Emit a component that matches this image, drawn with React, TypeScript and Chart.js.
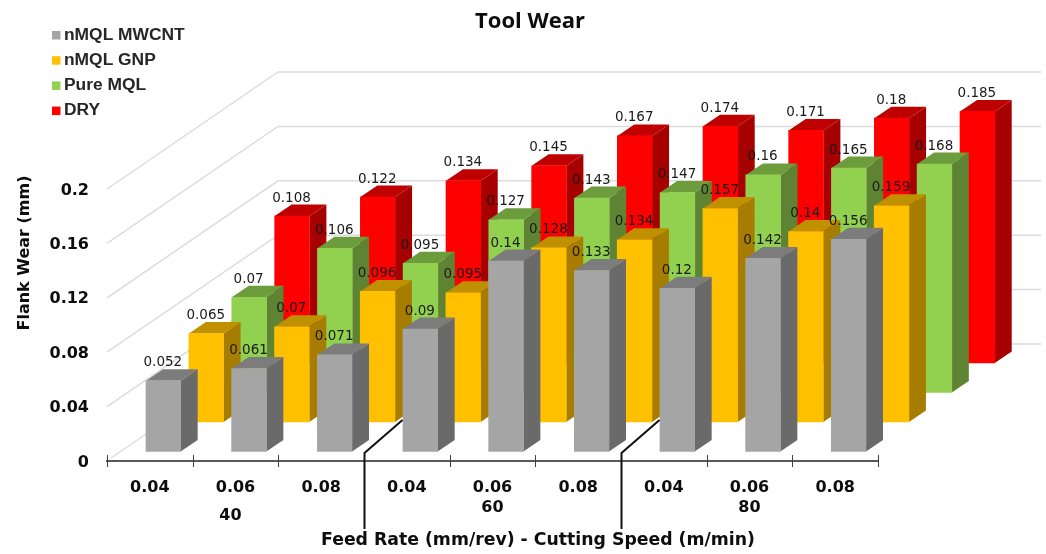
import React, { useEffect, useRef } from "react";
import { Chart, registerables } from "chart.js";

Chart.register(...registerables);

// Chart data
const feedRates = ["0.04", "0.06", "0.08", "0.04", "0.06", "0.08", "0.04", "0.06", "0.08"];
const cuttingSpeeds = ["40", "60", "80"];
const nmqlMwcnt = [0.052, 0.061, 0.071, 0.09, 0.14, 0.133, 0.12, 0.142, 0.156];
const nmqlGnp = [0.065, 0.07, 0.096, 0.095, 0.128, 0.134, 0.157, 0.14, 0.159];
const pureMql = [0.07, 0.106, 0.095, 0.127, 0.143, 0.147, 0.16, 0.165, 0.168];
const dry = [0.108, 0.122, 0.134, 0.145, 0.167, 0.174, 0.171, 0.18, 0.185];
const seriesNames = ["nMQL MWCNT", "nMQL GNP", "Pure MQL", "DRY"];

const frontColors = ["#a5a5a5", "#ffc000", "#92d050", "#ff0000"];
const sideColors = ["#6a6a6a", "#a67d00", "#5e8433", "#a60000"];
const topColors = ["#7c7c7c", "#bf9000", "#6d9c3c", "#bf0000"];

// Oblique projection used to fake the depth of the 3D columns
const ROW_DX = 42.9;
const ROW_DY = -29.5;
const FIRST_ROW_DX = 13.5;
const FIRST_ROW_DY = -9.5;
const COLUMN_DX = 17;
const COLUMN_DY = -11.5;
const WALL_DX = 171;
const WALL_DY = -117;
const WALL_END = 1041;

const rowShift = (i: number) => ({
  dx: FIRST_ROW_DX + ROW_DX * i,
  dy: FIRST_ROW_DY + ROW_DY * i,
});

const polygon = (ctx: CanvasRenderingContext2D, pts: number[][], fill: string) => {
  ctx.fillStyle = fill;
  ctx.beginPath();
  pts.forEach(([x, y], i) => (i ? ctx.lineTo(x, y) : ctx.moveTo(x, y)));
  ctx.closePath();
  ctx.fill();
};

const label = (
  ctx: CanvasRenderingContext2D,
  text: string,
  x: number,
  y: number,
  font: string,
  color: string,
  align: CanvasTextAlign = "center"
) => {
  ctx.font = font;
  ctx.fillStyle = color;
  ctx.textAlign = align;
  ctx.textBaseline = "middle";
  ctx.fillText(text, x, y);
};

// Floor and wall lines behind the columns
const depthGrid = {
  id: "depthGrid",
  beforeDatasetsDraw(chart: any) {
    const { ctx, scales } = chart;
    const left = scales.x.left;
    ctx.save();
    ctx.strokeStyle = "#dcdcdc";
    ctx.lineWidth = 1.5;
    scales.y.ticks.forEach((t: any) => {
      const y = scales.y.getPixelForValue(t.value);
      ctx.beginPath();
      ctx.moveTo(left + (t.value === 0 ? 4 : 0), y - (t.value === 0 ? 3 : 0));
      ctx.lineTo(left + WALL_DX, y + WALL_DY);
      ctx.lineTo(WALL_END, y + WALL_DY);
      ctx.stroke();
    });
    ctx.restore();
  },
};

// Shifts every series to its own row and adds the top and side faces of its columns
const columns3d = {
  id: "columns3d",
  beforeDatasetDraw(chart: any, args: any) {
    const { ctx } = chart;
    const i = args.index;
    const { dx, dy } = rowShift(i);
    ctx.save();
    ctx.translate(dx, dy);
    chart.getDatasetMeta(i).data.forEach((bar: any) => {
      const { x, y, base, width } = bar.getProps(["x", "y", "base", "width"], true);
      const r = x + width / 2;
      const l = x - width / 2;
      polygon(ctx, [[r, y], [r + COLUMN_DX, y + COLUMN_DY], [r + COLUMN_DX, base + COLUMN_DY], [r, base]], sideColors[i]);
      polygon(ctx, [[l, y], [l + COLUMN_DX, y + COLUMN_DY], [r + COLUMN_DX, y + COLUMN_DY], [r, y]], topColors[i]);
    });
  },
  afterDatasetDraw(chart: any) {
    chart.ctx.restore();
  },
};

// Value labels, axis furniture, legend and titles
const annotations = {
  id: "annotations",
  afterDatasetsDraw(chart: any) {
    const { ctx, scales } = chart;
    const xs = scales.x;
    const axisY = scales.y.getPixelForValue(0);
    ctx.save();

    for (let i = chart.data.datasets.length - 1; i >= 0; i--) {
      const { dx, dy } = rowShift(i);
      chart.getDatasetMeta(i).data.forEach((bar: any, j: number) => {
        const text = String(chart.data.datasets[i].data[j]);
        label(ctx, text, bar.x + dx - 0.5, bar.y + dy - 18, "13.5px 'DejaVu Sans'", "#1a1a1a");
      });
    }

    // Tick marks on the category boundaries; every third one is the group separator
    ctx.strokeStyle = "#404040";
    ctx.lineWidth = 1;
    for (let k = 0; k <= feedRates.length; k++) {
      const x = Math.round(xs.getPixelForValue(k - 0.5)) + 0.5;
      if (k === 3 || k === 6) {
        ctx.save();
        ctx.strokeStyle = "#111111";
        ctx.lineWidth = 2;
        ctx.beginPath();
        ctx.moveTo(x + 38, axisY - 41);
        ctx.lineTo(x, axisY - 8);
        ctx.lineTo(x, axisY + 68);
        ctx.stroke();
        ctx.restore();
      } else {
        ctx.beginPath();
        ctx.moveTo(x, axisY - 6);
        ctx.lineTo(x, axisY + 6);
        ctx.stroke();
      }
    }

    const tickFont = "bold 16px 'DejaVu Sans'";
    cuttingSpeeds.forEach((speed, g) => {
      const x = xs.getPixelForValue(3 * g + 1);
      label(ctx, speed, g === 0 ? x - 5 : x, g === 0 ? 516 : 508, tickFont, "#0d0d0d");
    });

    label(ctx, "Tool Wear", 530, 22, "bold 22px 'Open Sans'", "#0d0d0d");
    label(ctx, "Feed Rate (mm/rev) - Cutting Speed (m/min)", 538, 541, "bold 17.3px 'DejaVu Sans'", "#0d0d0d");

    ctx.save();
    ctx.translate(25, 253);
    ctx.rotate(-Math.PI / 2);
    label(ctx, "Flank Wear (mm)", 0, 0, "bold 16px 'DejaVu Sans'", "#0d0d0d");
    ctx.restore();

    chart.data.datasets.forEach((ds: any, i: number) => {
      const y = 35 + i * 25.2;
      ctx.fillStyle = ds.backgroundColor;
      ctx.fillRect(52, y - 4, 8.5, 8.5);
      label(ctx, ds.label, 64, y, "bold 17.4px 'Liberation Sans'", "#262626", "left");
    });

    ctx.restore();
  },
};

export default function App() {
  const ref = useRef<HTMLCanvasElement>(null);

  useEffect(() => {
    const chart = new Chart(ref.current!, {
      type: "bar",
      data: {
        labels: feedRates,
        datasets: [nmqlMwcnt, nmqlGnp, pureMql, dry].map((data, i) => ({
          label: seriesNames[i],
          data,
          backgroundColor: frontColors[i],
          barThickness: 34.7,
          grouped: false,
          clip: false as any,
        })),
      },
      options: {
        animation: false,
        responsive: false,
        layout: { padding: { top: 189, right: 168 } },
        plugins: { legend: { display: false }, tooltip: { enabled: false } },
        scales: {
          x: {
            afterFit: (s: any) => {
              s.height = 93;
            },
            grid: { display: false },
            border: { color: "#595959", width: 2 },
            ticks: {
              maxRotation: 0,
              padding: 9,
              color: "#0d0d0d",
              font: { family: "'DejaVu Sans'", size: 16, weight: "bold" },
            },
          },
          y: {
            min: 0,
            max: 0.2,
            afterFit: (s: any) => {
              s.width = 107;
            },
            grid: { display: false },
            border: { display: false },
            ticks: {
              stepSize: 0.04,
              padding: 10,
              labelOffset: 1.5,
              color: "#0d0d0d",
              font: { family: "'DejaVu Sans'", size: 16, weight: "bold" },
              callback: (v: any) => String(Math.round(Number(v) * 100) / 100),
            },
          },
        },
      },
      plugins: [depthGrid, columns3d, annotations],
    });
    return () => chart.destroy();
  }, []);

  return (
    <div style={{ position: "absolute", left: 0, top: 0, width: 1046, height: 554, background: "#ffffff" }}>
      <canvas ref={ref} width={1046} height={554} style={{ display: "block" }} />
    </div>
  );
}
